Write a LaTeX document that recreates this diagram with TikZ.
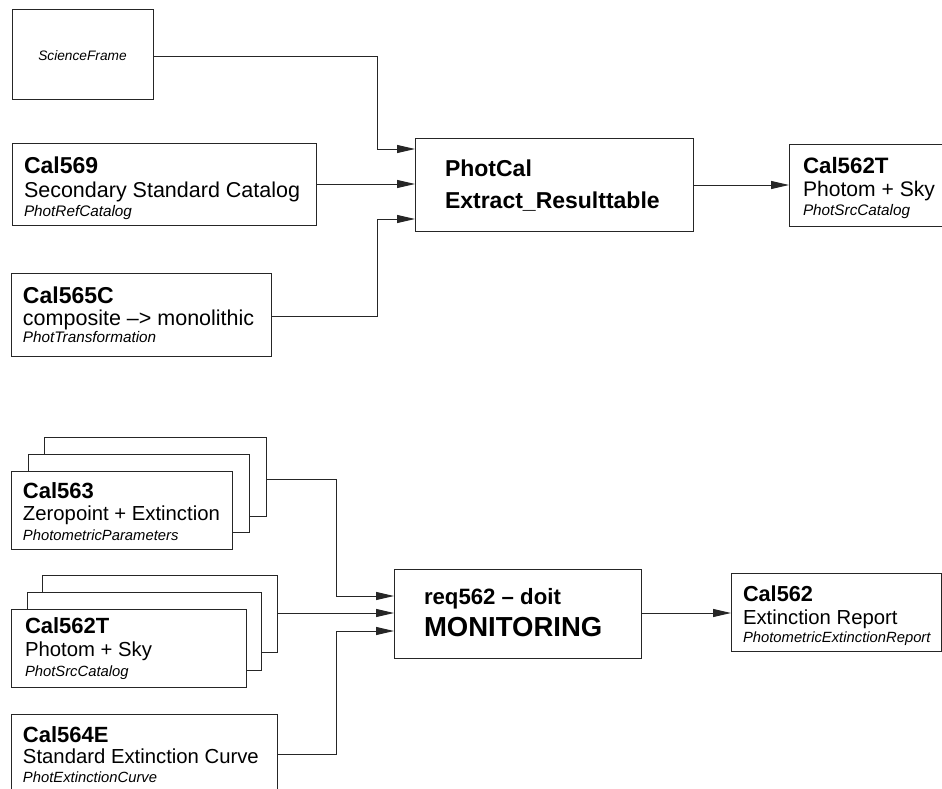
\documentclass[tikz,border=0pt]{standalone}
\usepackage{fontspec}
\setmainfont{Liberation Sans}
\usetikzlibrary{arrows.meta}
\tikzset{
  box/.style={draw=black!85, line width=1pt, fill=white},
  conn/.style={draw=black!85, line width=1pt},
  arr/.style={conn, -{Triangle[length=18pt,width=8pt]}},
  lbl/.style={anchor=base west, inner sep=0pt, outer sep=0pt},
}
\newcommand{\bA}{\bfseries\fontsize{23}{23}\selectfont}
\newcommand{\rA}{\fontsize{21.5}{21.5}\selectfont}
\newcommand{\iA}{\itshape\fontsize{15.3}{15.3}\selectfont}
\newcommand{\bB}{\bfseries\fontsize{22}{22}\selectfont}
\newcommand{\rB}{\fontsize{20.3}{20.3}\selectfont}
\newcommand{\iB}{\itshape\fontsize{14.8}{14.8}\selectfont}
\begin{document}
\begin{tikzpicture}[x=1pt,y=-1pt]
\clip (0,0) rectangle (942,789);
\fill[white] (0,0) rectangle (942,789);

% ---------- top part ----------
\node[box, anchor=north west, minimum width=141, minimum height=90, inner sep=0pt] (sf) at (12,9) {};
\node[anchor=base, inner sep=0pt] (sft) at (82.5,61) {\itshape\fontsize{13.7}{13.7}\selectfont ScienceFrame};

\node[box, anchor=north west, minimum width=304, minimum height=82, inner sep=0pt] (c569) at (12,143) {};
\node[lbl] (c569a) at (24,173) {\bA Cal569};
\node[lbl] (c569b) at (24,197) {\rA Secondary Standard Catalog};
\node[lbl] (c569c) at (24,216) {\iA PhotRefCatalog};

\node[box, anchor=north west, minimum width=260, minimum height=83, inner sep=0pt] (c565) at (11,273) {};
\node[lbl] (c565a) at (23,303) {\bA Cal565C};
\node[lbl] (c565b) at (23,325) {\rA composite –> monolithic};
\node[lbl] (c565c) at (23,342) {\iA PhotTransformation};

\node[box, anchor=north west, minimum width=278, minimum height=93, inner sep=0pt] (pc) at (415,138) {};
\node[lbl] (pca) at (445,176) {\bA PhotCal};
\node[lbl] (pcb) at (445,208) {\bA Extract\_Resulttable};

\node[box, anchor=north west, minimum width=180, minimum height=82, inner sep=0pt] (c562t) at (789,144) {};
\node[lbl] (c562ta) at (803,173) {\bfseries\fontsize{22.3}{22.3}\selectfont Cal562T};
\node[lbl] (c562tb) at (803,196) {\fontsize{21.1}{21.1}\selectfont Photom + Sky};
\node[lbl] (c562tc) at (803,215) {\iA PhotSrcCatalog};

\coordinate (k1) at (377,57);
\coordinate (k2) at (377,316);
\draw[arr] (sf.east |- k1) -- (k1) |- (pc.west |- 0,149);
\draw[arr] (c569.east |- 0,184) -- (pc.west |- 0,184);
\draw[arr] (c565.east |- k2) -- (k2) |- (pc.west |- 0,219);
\draw[arr] (pc.east |- 0,185) -- (c562t.west |- 0,185);

% ---------- bottom part ----------
\node[box, anchor=north west, minimum width=222, minimum height=79, inner sep=0pt] (s3c) at (44,437) {};
\node[box, anchor=north west, minimum width=221, minimum height=78, inner sep=0pt] (s2c) at (28,454) {};
\node[box, anchor=north west, minimum width=221, minimum height=78, inner sep=0pt] (c563) at (11,471) {};
\node[lbl] (c563a) at (23,498) {\bB Cal563};
\node[lbl] (c563b) at (23,520) {\rB Zeropoint + Extinction};
\node[lbl] (c563c) at (23,540) {\iB PhotometricParameters};

\node[box, anchor=north west, minimum width=235, minimum height=77, inner sep=0pt] (s3t) at (42,575) {};
\node[box, anchor=north west, minimum width=234, minimum height=78, inner sep=0pt] (s2t) at (27,592) {};
\node[box, anchor=north west, minimum width=235, minimum height=78, inner sep=0pt] (c562b) at (11,609) {};
\node[lbl] (c562ba) at (25,633) {\bB Cal562T};
\node[lbl] (c562bb) at (25,656) {\rB Photom + Sky};
\node[lbl] (c562bc) at (25,676) {\iB PhotSrcCatalog};

\node[box, anchor=north west, minimum width=266, minimum height=84, inner sep=0pt] (c564) at (11,714) {};
\node[lbl] (c564a) at (23,742) {\bB Cal564E};
\node[lbl] (c564b) at (23,763) {\rB Standard Extinction Curve};
\node[lbl] (c564c) at (23,782) {\iB PhotExtinctionCurve};

\node[box, anchor=north west, minimum width=247, minimum height=89, inner sep=0pt] (mon) at (394,569) {};
\node[lbl] (mona) at (424,604) {\bfseries\fontsize{22.2}{22.2}\selectfont req562 – doit};
\node[lbl] (monb) at (424,636) {\bfseries\fontsize{27.5}{27.5}\selectfont MONITORING};

\node[box, anchor=north west, minimum width=210, minimum height=78, inner sep=0pt] (c562) at (731,573) {};
\node[lbl] (c562a) at (743,601) {\bfseries\fontsize{21.7}{21.7}\selectfont Cal562};
\node[lbl] (c562b2) at (743,624) {\fontsize{20.3}{20.3}\selectfont Extinction Report};
\node[lbl] (c562c) at (743,642) {\itshape\fontsize{14.8}{14.8}\selectfont PhotometricExtinctionReport};

\coordinate (k3) at (336,479);
\coordinate (k4) at (336,754);
\draw[arr] (s3c.east |- k3) -- (k3) |- (mon.west |- 0,596);
\draw[arr] (s3t.east |- 0,613) -- (mon.west |- 0,613);
\draw[arr] (c564.east |- k4) -- (k4) |- (mon.west |- 0,631);
\draw[arr] (mon.east |- 0,613) -- (c562.west |- 0,613);
\end{tikzpicture}
\end{document}
